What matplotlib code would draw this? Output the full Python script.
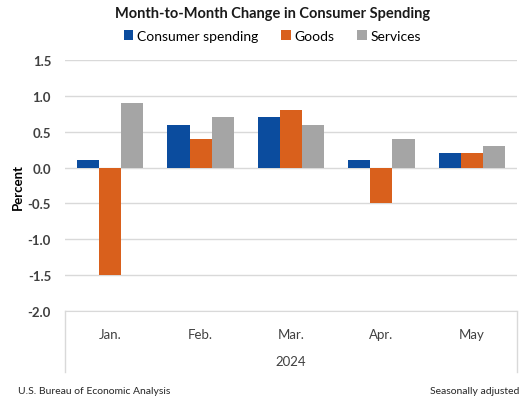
import numpy as np
import matplotlib
matplotlib.use('Agg')
import matplotlib.pyplot as plt

plt.rcParams['font.family'] = ['Lato', 'DejaVu Sans']

# data
months = ['Jan.', 'Feb.', 'Mar.', 'Apr.', 'May']
consumer_spending = [0.1, 0.6, 0.7, 0.1, 0.2]
goods = [-1.5, 0.4, 0.8, -0.5, 0.2]
services = [0.9, 0.7, 0.6, 0.4, 0.3]
series_names = ['Consumer spending', 'Goods', 'Services']
colors = ['#0B4C9E', '#D9601C', '#A5A5A5']
y_ticks = [1.5, 1.0, 0.5, 0.0, -0.5, -1.0, -1.5, -2.0]

fig = plt.figure(figsize=(5.19, 4.02), dpi=100)
ax = fig.add_axes([65 / 519, 1 - 312 / 402, 452 / 519, 251 / 402])

x = np.arange(len(months))
width = 0.245
for i, (vals, name) in enumerate(zip([consumer_spending, goods, services], series_names)):
    ax.bar(x + (i - 1) * width, vals, width, color=colors[i], label=name, zorder=3)

ax.set_xlim(-0.5, len(months) - 0.5)
ax.set_ylim(-2.0, 1.5)
ax.set_yticks(y_ticks)
ax.set_yticklabels(['{:.1f}'.format(t) for t in y_ticks], fontweight='bold', color='#404040', fontsize=9.5)
ax.yaxis.grid(True, color='#D9D9D9', linewidth=1, zorder=0)
ax.tick_params(axis='y', length=0, pad=10)
ax.tick_params(axis='x', length=0, pad=12, labelsize=9.5, labelcolor='#404040')
ax.set_xticks(x)
ax.set_xticklabels(months)
for s in ['top', 'right', 'left']:
    ax.spines[s].set_visible(False)
ax.spines['bottom'].set_color('#D9D9D9')

# category box lines below the axis
for xv in [0, 1]:
    ax.plot([xv, xv], [0, -0.245], transform=ax.transAxes, color='#D9D9D9',
            linewidth=1, clip_on=False)
ax.text(0.5, -0.2, '2024', transform=ax.transAxes, ha='center', va='center',
        fontsize=9.5, color='#404040')

ax.set_ylabel('Percent', fontweight='bold', fontsize=9.5, labelpad=3)

fig.text(0.525, 1 - 14 / 402, 'Month-to-Month Change in Consumer Spending',
         ha='center', va='center', fontweight='bold', fontsize=10.5, color='#1a1a1a')
fig.legend(loc='center', bbox_to_anchor=(0.525, 1 - 37 / 402), ncol=3, frameon=False,
           handlelength=0.7, handleheight=0.7, handletextpad=0.3, columnspacing=1.6,
           fontsize=10)

fig.text(18 / 519, 1 - 392 / 402, 'U.S. Bureau of Economic Analysis', ha='left',
         va='center', fontsize=7.5, color='#262626')
fig.text(1.0, 1 - 392 / 402, 'Seasonally adjusted', ha='right', va='center',
         fontsize=7.5, color='#262626')

fig.savefig('out.png', dpi=100)
